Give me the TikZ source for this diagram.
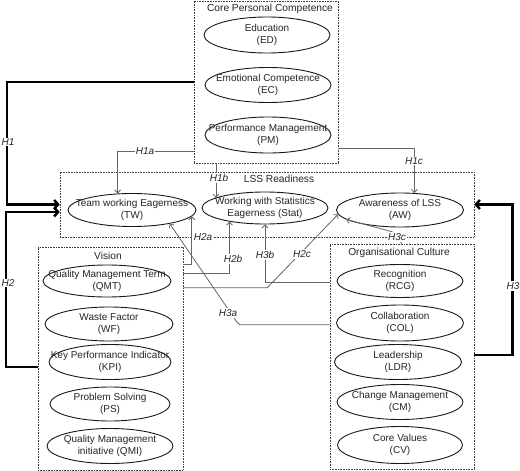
\documentclass[tikz,border=0pt]{standalone}
\usepackage{fontspec}
\setmainfont{Liberation Sans}
\usetikzlibrary{shapes.geometric,arrows.meta}
\newcommand\ovl[5]{%
  \node[oval, minimum width=#3pt, minimum height=#4pt] (#1) at (#2) {};
  \node[otext] (#1-t) at (#1.center) {#5};}
\begin{document}
\begin{tikzpicture}[x=1pt,y=-1pt,
  box/.style={draw=black!75, densely dotted, line width=0.6pt, inner sep=0pt},
  oval/.style={ellipse, draw=black!90, line width=0.9pt, inner sep=0pt},
  otext/.style={font=\fontsize{10}{12.5}\selectfont, align=center, text=black!85, inner sep=0pt},
  ttl/.style={font=\fontsize{10.2}{12}\selectfont, text=black!85, inner sep=0pt},
  thk/.style={line width=2.4pt, black, -{Straight Barb[length=4pt,width=9pt]}},
  thn/.style={draw=black!60, line width=0.8pt, -{Straight Barb[length=3pt,width=6pt]}},
  hl/.style={font=\fontsize{10}{11}\selectfont\itshape, fill=white, inner sep=1pt, text=black!85}]
\useasboundingbox (0,0) rectangle (520,471);
\fill[white] (0,0) rectangle (520,471);

% boxes
\node[box, minimum width=144pt, minimum height=162pt] (core) at (266,82) {};
\node[box, minimum width=414pt, minimum height=65pt] (lss) at (267,204.5) {};
\node[box, minimum width=145pt, minimum height=223pt] (vision) at (110.5,358.5) {};
\node[box, minimum width=144pt, minimum height=225pt] (org) at (402,356.5) {};

% titles
\node[ttl] (core-title) at (270,9) {Core Personal Competence};
\node[ttl] (lss-title) at (279,179) {LSS Readiness};
\node[ttl] (vision-title) at (108,256) {Vision};
\node[ttl] (org-title) at (399,253) {Organisational Culture};

% ellipses
\ovl{ed}{267,35}{126}{36}{Education\\(ED)}
\ovl{ec}{268,85}{126}{35}{Emotional Competence\\(EC)}
\ovl{pm}{268,135}{126}{36}{Performance Management\\(PM)}
\ovl{tw}{132,210}{128}{33}{Team working Eagerness\\(TW)}
\ovl{stat}{265,208}{126}{32}{Working with Statistics\\Eagerness (Stat)}
\ovl{aw}{400,210}{127}{34}{Awareness of LSS\\(AW)}
\ovl{qmt}{107,281}{128}{32}{Quality Management Term\\(QMT)}
\ovl{wf}{109,324}{128}{34}{Waste Factor\\(WF)}
\ovl{kpi}{110,362}{122}{35}{Key Performance Indicator\\(KPI)}
\ovl{ps}{110,404}{120}{34}{Problem Solving\\(PS)}
\ovl{qmi}{110,446}{126}{35}{Quality Management\\initiative (QMI)}
\ovl{rcg}{400,281}{126}{33}{Recognition\\(RCG)}
\ovl{col}{400,323}{127}{36}{Collaboration\\(COL)}
\ovl{ldr}{398,362}{127}{35}{Leadership\\(LDR)}
\ovl{cm}{400,402}{126}{35}{Change Management\\(CM)}
\ovl{cv}{400,445}{125}{37}{Core Values\\(CV)}

% thick connectors
\draw[thk] (core.west) -- ++(-187,0) |- (lss.west);
\draw[thk] ([yshift=-8.5pt]vision.west) -- ++(-32,0) |- ([yshift=-7.5pt]lss.west);
\draw[thk] ([yshift=1.5pt]org.east) -- ++(38,0) |- (lss.east);

% thin connectors
\draw[thn] ([yshift=12pt]core.south west) -| (tw.131);
\draw[thn] (core.south -| stat.168) -- (stat.168);
\draw[thn] ([yshift=15pt]core.south east) -| (aw.50);
\draw[thn] ([yshift=-18pt]vision.north east) -| (tw.-6);
\draw[thn] ([yshift=-27pt]vision.north east) -| (stat.-159);
\draw[thn] ([yshift=-41pt]vision.north east) -- ++(84,0) -- (aw.184);
\draw[thn] ([yshift=-39pt]org.north west) -| (stat.south);
\draw[thn] ([yshift=-81pt]org.north west) -- ++(-90,0) -- ++(-3,-3) -- (tw.-20);
\draw[thn] (org.north) -- ++(-10,-12) -- (aw.190);

% labels
\node[hl] (l-h1) at (8,142) {H1};
\node[hl] (l-h2) at (8,283) {H2};
\node[hl] (l-h3) at (513,286) {H3};
\node[hl] (l-h1a) at (145,151) {H1a};
\node[hl] (l-h1b) at (219,178) {H1b};
\node[hl] (l-h1c) at (414,161) {H1c};
\node[hl] (l-h2a) at (203,237) {H2a};
\node[hl] (l-h2b) at (233,259) {H2b};
\node[hl] (l-h2c) at (302,254) {H2c};
\node[hl] (l-h3b) at (265,255) {H3b};
\node[hl] (l-h3a) at (228,313) {H3a};
\node[hl] (l-h3c) at (397,237) {H3c};
\end{tikzpicture}
\end{document}
